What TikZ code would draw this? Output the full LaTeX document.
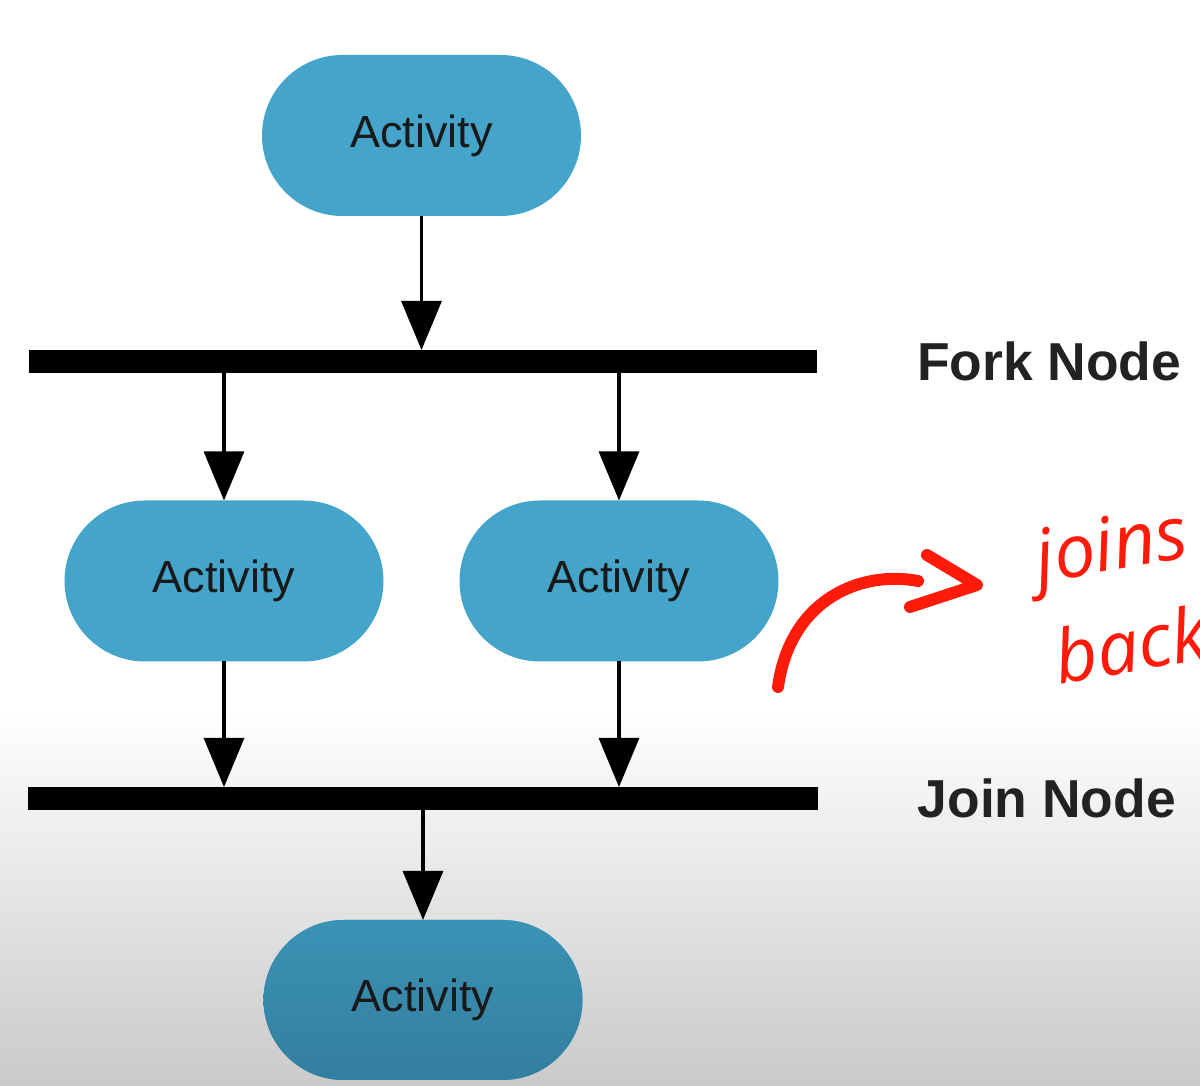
\documentclass[tikz,border=0pt]{standalone}
\usepackage{fontspec}
\setmainfont{Liberation Sans}
\newfontfamily\handfont{Open Sans}
\usetikzlibrary{positioning,arrows.meta,shapes.misc}
\definecolor{actblue}{HTML}{44A4CA}
\definecolor{actblueA}{HTML}{3A93B5}
\definecolor{actblueB}{HTML}{347E9F}
\definecolor{labelgray}{HTML}{222222}
\definecolor{penred}{HTML}{FF1A0A}
\tikzstyle{activity}=[rounded rectangle,fill=actblue,inner sep=0pt,outer sep=0pt,
    minimum width=3.19cm,minimum height=1.61cm,font=\fontsize{12.8pt}{14pt}\selectfont,text=black!90]
\tikzstyle{bar}=[fill=black,inner sep=0pt,outer sep=0pt,minimum width=7.87cm,minimum height=0.23cm]
\tikzstyle{flow}=[draw,line width=0.9pt,-{Triangle[length=0.49cm,width=0.4cm]}]
\tikzstyle{barlabel}=[inner sep=0pt,text=labelgray,font=\bfseries\fontsize{15.2pt}{17pt}\selectfont]
\tikzstyle{pen}=[draw=penred,line width=3.4pt,line cap=round,line join=round]
\tikzstyle{scribble}=[text=penred,inner sep=0pt,rotate=10,font=\handfont\itshape\fontsize{21pt}{24pt}\selectfont]

\begin{document}
\begin{tikzpicture}
                \useasboundingbox (0,0) rectangle (12,-10.86);
                \fill[white] (0,0) rectangle (12,-7.1);
                \shade[top color=white,bottom color=black!21] (0,-7.1) rectangle (12,-10.86);
                \path (4.215,-1.355) node[activity] (act1) {\raisebox{-0.3ex}{Activity}}
                    ++ (0.015,-2.26) node[bar] (fork) {}
                    ++ (-1.99,-2.195) node[activity] (act2) {\raisebox{-0.3ex}{Activity}}
                    ++ (3.95,0) node[activity] (act3) {\raisebox{-0.3ex}{Activity}}
                    ++ (-1.96,-2.175) node[bar,minimum width=7.9cm] (join) {}
                    ++ (0,-2.015) node[activity,top color=actblueA,bottom color=actblueB,
                        minimum height=1.6cm] (act4) {\raisebox{-0.3ex}{Activity}}
                    ;
                \node[barlabel,anchor=west,right=1.0cm of fork] (forklabel) {Fork Node};
                \node[barlabel,anchor=west,right=0.99cm of join] (joinlabel) {Join Node};
                \draw[flow] (act1.south) -- (act1.south |- fork.north);
                \draw[flow] (act2.north |- fork.south) -- (act2.north);
                \draw[flow] (act3.north |- fork.south) -- (act3.north);
                \draw[flow] (act2.south) -- (act2.south |- join.north);
                \draw[flow] (act3.south) -- (act3.south |- join.north);
                \draw[flow] (act4.north |- join.south) -- (act4.north);
                % hand-drawn note
                \coordinate (penstart) at (7.78,-6.87);
                \coordinate (penend) at (9.18,-5.81);
                \draw[pen] (penstart) .. controls (7.9,-6.0) and (8.6,-5.7) .. (penend);
                \draw[pen] (9.27,-5.55) -- (9.77,-5.85) -- (9.1,-6.07);
                \node[scribble] (joins) at (11.12,-5.52) {joins};
                \node[scribble] (back) at (11.3,-6.44) {back};
            \end{tikzpicture}
\end{document}
